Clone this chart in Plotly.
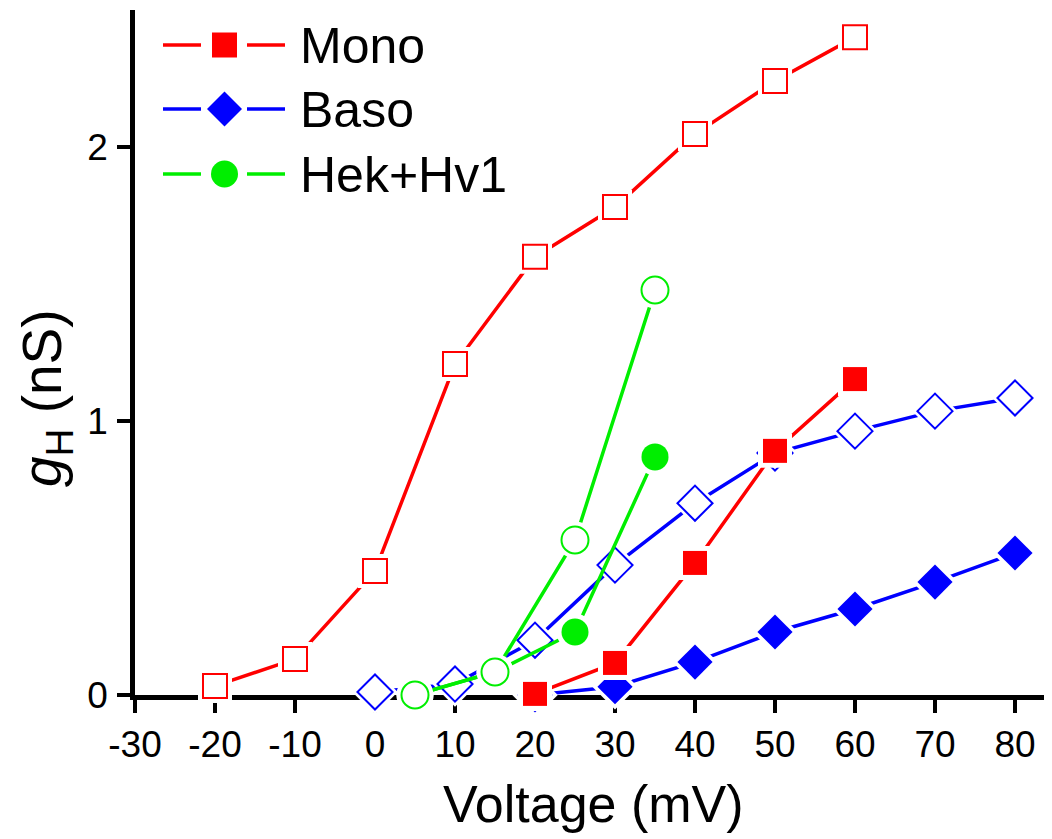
import plotly.graph_objects as go

# ---------------- data ----------------
mono_open_x = [-20, -10, 0, 10, 20, 30, 40, 50, 60]
mono_open_y = [0.033, 0.131, 0.453, 1.208, 1.599, 1.781, 2.047, 2.241, 2.401]
mono_fill_x = [20, 30, 40, 50, 60]
mono_fill_y = [0.004, 0.117, 0.482, 0.891, 1.153]

baso_open_x = [0, 10, 20, 30, 40, 50, 60, 70, 80]
baso_open_y = [0.011, 0.040, 0.200, 0.474, 0.700, 0.883, 0.963, 1.036, 1.084]
baso_fill_x = [20, 30, 40, 50, 60, 70, 80]
baso_fill_y = [0.0, 0.030, 0.120, 0.230, 0.314, 0.412, 0.518]

hek_open_x = [5, 15, 25, 35]
hek_open_y = [0.0, 0.084, 0.566, 1.478]
hek_fill_x = [5, 15, 25, 35]
hek_fill_y = [0.0, 0.084, 0.230, 0.869]

x_tickvals = [-30, -20, -10, 0, 10, 20, 30, 40, 50, 60, 70, 80]
x_ticktext = ["-30", "-20", "-10", "0", "10", "20", "30", "40", "50", "60", "70", "80"]
y_tickvals = [0, 1, 2]
y_ticktext = ["0", "1", "2"]

legend_names = ["Mono", "Baso", "Hek+Hv1"]

RED = "#ff0000"
BLUE = "#0000ff"
GREEN = "#00ee00"
FONT = "Arial, Liberation Sans, sans-serif"

fig = go.Figure()


def add_series(x, y, color, symbol, size, filled, pad):
    fig.add_trace(go.Scatter(x=x, y=y, mode="lines",
                             line=dict(color=color, width=3.5),
                             showlegend=False, hoverinfo="skip", cliponaxis=False))
    fig.add_trace(go.Scatter(x=x, y=y, mode="markers",
                             marker=dict(symbol=symbol, size=size + pad, color="white",
                                         line=dict(width=0)),
                             showlegend=False, hoverinfo="skip", cliponaxis=False))
    if filled:
        mk = dict(symbol=symbol, size=size, color=color, line=dict(width=0))
    else:
        mk = dict(symbol=symbol, size=size, color="white", line=dict(width=2, color=color))
    fig.add_trace(go.Scatter(x=x, y=y, mode="markers", marker=mk,
                             showlegend=False, cliponaxis=False))


add_series(baso_open_x, baso_open_y, BLUE, "diamond", 27, False, 8)
add_series(baso_fill_x, baso_fill_y, BLUE, "diamond", 27, True, 8)
add_series(hek_fill_x, hek_fill_y, GREEN, "circle", 27, True, 10)
add_series(hek_open_x, hek_open_y, GREEN, "circle", 27, False, 10)
add_series(mono_open_x, mono_open_y, RED, "square", 24, False, 10)
add_series(mono_fill_x, mono_fill_y, RED, "square", 24, True, 10)

# ---------------- layout geometry (screen pixels; page has 8px body margin) ----------------
OFF = 8
SL, SR, ST, SB = 135, 1050, 10, 695          # plot area on screen
PL, PR, PT, PB = SL - OFF, SR - OFF, ST - OFF, SB - OFF  # in figure coords
W, H = 1052, 839


def px(xs):
    return (xs - SL) / (SR - SL)


def py(ys):
    return (SB - ys) / (SB - ST)


shapes = []
rows = [45, 109, 174]
colors = [RED, BLUE, GREEN]
for yc, col in zip(rows, colors):
    shapes.append(dict(type="line", xref="paper", yref="paper",
                       x0=px(163), x1=px(201), y0=py(yc), y1=py(yc),
                       line=dict(color=col, width=3.5)))
    shapes.append(dict(type="line", xref="paper", yref="paper",
                       x0=px(247), x1=px(285), y0=py(yc), y1=py(yc),
                       line=dict(color=col, width=3.5)))
xc = 224.5
shapes.append(dict(type="rect", xref="paper", yref="paper",
                   x0=px(xc - 12.5), x1=px(xc + 12.5), y0=py(rows[0] - 12.5), y1=py(rows[0] + 12.5),
                   fillcolor=RED, line=dict(width=0)))
d = 17.5
path = "M {} {} L {} {} L {} {} L {} {} Z".format(
    px(xc - d), py(rows[1]), px(xc), py(rows[1] - d), px(xc + d), py(rows[1]), px(xc), py(rows[1] + d))
shapes.append(dict(type="path", xref="paper", yref="paper", path=path,
                   fillcolor=BLUE, line=dict(width=0)))
r = 13.5
shapes.append(dict(type="circle", xref="paper", yref="paper",
                   x0=px(xc - r), x1=px(xc + r), y0=py(rows[2] - r), y1=py(rows[2] + r),
                   fillcolor=GREEN, line=dict(width=0)))

annotations = []
for name, yc in zip(legend_names, rows):
    annotations.append(dict(text=name, xref="paper", yref="paper", x=px(298), y=py(yc + 1),
                            xanchor="left", yanchor="middle", showarrow=False,
                            font=dict(family=FONT, size=50, color="black")))

annotations.append(dict(text="Voltage (mV)", xref="paper", yref="paper",
                        x=px(593), y=py(804), xanchor="center", yanchor="middle",
                        showarrow=False, font=dict(family=FONT, size=52, color="black")))
annotations.append(dict(text="<i>g</i><sub>H</sub> (nS)", xref="paper", yref="paper",
                        x=px(46), y=py(398), xanchor="center", yanchor="middle",
                        textangle=-90, showarrow=False,
                        font=dict(family=FONT, size=55, color="black")))

fig.update_layout(
    width=W, height=H,
    margin=dict(l=PL, r=W - PR, t=PT, b=H - PB, autoexpand=False),
    paper_bgcolor="white", plot_bgcolor="white",
    showlegend=False,
    shapes=shapes, annotations=annotations,
    xaxis=dict(range=[-30, -30 + (SR - SL) / 8.0], tickvals=x_tickvals, ticktext=x_ticktext,
               showline=True, linecolor="black", linewidth=4.5, mirror=False,
               ticks="outside", ticklen=13, tickwidth=4, tickcolor="black",
               showgrid=False, zeroline=False, layer="below traces",
               tickfont=dict(family=FONT, size=37, color="black")),
    yaxis=dict(range=[0, 2.5], tickvals=y_tickvals, ticktext=y_ticktext,
               showline=True, linecolor="black", linewidth=4.5, mirror=False,
               ticks="outside", ticklen=13, tickwidth=4, tickcolor="black",
               showgrid=False, zeroline=False, ticklabelstandoff=2, layer="below traces",
               tickfont=dict(family=FONT, size=37, color="black")),
)

fig.write_html("out.html")
